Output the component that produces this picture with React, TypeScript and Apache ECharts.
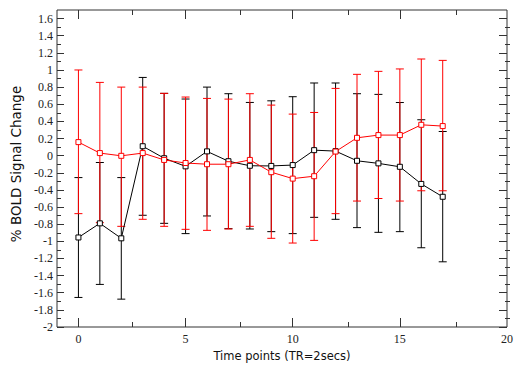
import React, { useEffect, useRef } from "react";
import * as echarts from "echarts";

// Time points (TR = 2 secs)
const timePoints = [0, 1, 2, 3, 4, 5, 6, 7, 8, 9, 10, 11, 12, 13, 14, 15, 16, 17];

// Black series: mean and error-bar ends
const blackMean = [-0.955, -0.79, -0.965, 0.11, -0.03, -0.125, 0.05, -0.065, -0.118, -0.12, -0.11, 0.064, 0.053, -0.06, -0.09, -0.13, -0.33, -0.48];
const blackLow = [-1.655, -1.503, -1.675, -0.696, -0.79, -0.91, -0.704, -0.852, -0.856, -0.887, -0.91, -0.72, -0.743, -0.84, -0.895, -0.887, -1.075, -1.239];
const blackHigh = [-0.256, -0.08, -0.256, 0.913, 0.727, 0.661, 0.8, 0.723, 0.621, 0.64, 0.688, 0.848, 0.848, 0.723, 0.715, 0.62, 0.419, 0.282];

// Red series: mean and error-bar ends
const redMean = [0.158, 0.03, -0.002, 0.03, -0.05, -0.086, -0.1, -0.1, -0.05, -0.193, -0.268, -0.24, 0.048, 0.208, 0.24, 0.24, 0.36, 0.345];
const redLow = [-0.677, -0.782, -0.825, -0.743, -0.825, -0.86, -0.872, -0.856, -0.825, -0.965, -1.02, -0.989, -0.677, -0.53, -0.5, -0.53, -0.41, -0.41];
const redHigh = [1.0, 0.855, 0.8, 0.8, 0.727, 0.684, 0.668, 0.66, 0.723, 0.59, 0.485, 0.504, 0.785, 0.949, 0.984, 1.012, 1.128, 1.112];

// Axis ticks and labels
const xLabelValues = [0, 5, 10, 15, 20];
const xMajorTicks = [0, 5, 10, 15];
const xMinorTicks = [2.5, 7.5, 12.5, 17.5];
const yMajorTicks = [-2, -1.8, -1.6, -1.4, -1.2, -1, -0.8, -0.6, -0.4, -0.2, 0, 0.2, 0.4, 0.6, 0.8, 1, 1.2, 1.4, 1.6];
const yMinorTicks = [-1.9, -1.7, -1.5, -1.3, -1.1, -0.9, -0.7, -0.5, -0.3, -0.1, 0.1, 0.3, 0.5, 0.7, 0.9, 1.1, 1.3, 1.5];

const X_MIN = -1;
const X_MAX = 20;
const Y_MIN = -2;
const Y_MAX = 1.7;

const AXIS_COLOR = "#333";
const LABEL_FONT = "Liberation Serif";
const TITLE_FONT = "DejaVu Sans";

function errorBarSeries(name: string, low: number[], high: number[], color: string) {
  return {
    name,
    type: "custom",
    xAxisIndex: 0,
    yAxisIndex: 0,
    data: timePoints.map((t, i) => [t, low[i], high[i]]),
    encode: { x: 0, y: [1, 2] },
    renderItem: (_params: any, api: any) => {
      const x = api.value(0);
      const pLo = api.coord([x, api.value(1)]);
      const pHi = api.coord([x, api.value(2)]);
      const hw = 4;
      const style = { stroke: color, lineWidth: 1, fill: "none" };
      return {
        type: "group",
        children: [
          { type: "line", shape: { x1: pLo[0], y1: pLo[1], x2: pHi[0], y2: pHi[1] }, style },
          { type: "line", shape: { x1: pLo[0] - hw, y1: pLo[1], x2: pLo[0] + hw, y2: pLo[1] }, style },
          { type: "line", shape: { x1: pHi[0] - hw, y1: pHi[1], x2: pHi[0] + hw, y2: pHi[1] }, style },
        ],
      };
    },
  };
}

function meanSeries(name: string, mean: number[], color: string) {
  return {
    name,
    type: "line",
    xAxisIndex: 0,
    yAxisIndex: 0,
    data: timePoints.map((t, i) => [t, mean[i]]),
    symbol: "rect",
    symbolSize: 5,
    showAllSymbol: true,
    lineStyle: { color, width: 1 },
    itemStyle: { color: "#fff", borderColor: color, borderWidth: 1 },
  };
}

function xAxisDef(gridIndex: number, position: string, ticks: number[], len: number, labels: boolean, name?: string) {
  return {
    type: "value",
    gridIndex,
    position,
    min: X_MIN,
    max: X_MAX,
    axisLine: { show: false, onZero: false },
    splitLine: { show: false },
    axisTick: { show: true, inside: true, length: len, customValues: ticks, lineStyle: { color: AXIS_COLOR, width: 1 } },
    axisLabel: labels
      ? { show: true, customValues: xLabelValues, margin: 6, color: "#222", fontFamily: LABEL_FONT, fontSize: 12 }
      : { show: false },
    name: name || "",
    nameLocation: "middle",
    nameGap: 22,
    nameTextStyle: { fontFamily: TITLE_FONT, fontSize: 11.5, color: "#111", verticalAlign: "top" },
  };
}

function yAxisDef(gridIndex: number, position: string, ticks: number[], len: number, labels: boolean, name?: string) {
  return {
    type: "value",
    gridIndex,
    position,
    min: Y_MIN,
    max: Y_MAX,
    axisLine: { show: false, onZero: false },
    splitLine: { show: false },
    axisTick: { show: true, inside: true, length: len, customValues: ticks, lineStyle: { color: AXIS_COLOR, width: 1 } },
    axisLabel: labels
      ? { show: true, customValues: yMajorTicks, margin: 4, color: "#222", fontFamily: LABEL_FONT, fontSize: 12 }
      : { show: false },
    name: name || "",
    nameLocation: "middle",
    nameGap: 33,
    nameRotate: 90,
    nameTextStyle: { fontFamily: TITLE_FONT, fontSize: 13.5, color: "#111", padding: [0, 0, 0, 9] },
  };
}

export default function App() {
  const ref = useRef<HTMLDivElement>(null);

  useEffect(() => {
    if (!ref.current) return;
    const chart = echarts.init(ref.current, undefined, { renderer: "svg" });
    const gridRect = { left: 57, top: 10, width: 453, height: 317 };
    chart.setOption({
      animation: false,
      backgroundColor: "#fff",
      grid: [
        { ...gridRect, show: true, borderColor: AXIS_COLOR, borderWidth: 1, backgroundColor: "transparent" },
        { ...gridRect, show: false },
      ],
      xAxis: [
        xAxisDef(0, "bottom", xMajorTicks, 9, true, "Time points (TR=2secs)"),
        xAxisDef(0, "top", xMajorTicks, 9, false),
        xAxisDef(1, "bottom", xMinorTicks, 5, false),
        xAxisDef(1, "top", xMinorTicks, 5, false),
      ],
      yAxis: [
        yAxisDef(0, "left", yMajorTicks, 7, true, "% BOLD Signal Change"),
        yAxisDef(0, "right", yMajorTicks, 8, false),
        yAxisDef(1, "left", yMinorTicks, 4, false),
        yAxisDef(1, "right", yMinorTicks, 5, false),
      ],
      series: [
        errorBarSeries("blackErr", blackLow, blackHigh, "#000"),
        meanSeries("black", blackMean, "#000"),
        errorBarSeries("redErr", redLow, redHigh, "#ff0000"),
        meanSeries("red", redMean, "#ff0000"),
      ],
    });
    return () => chart.dispose();
  }, []);

  return (
    <div
      ref={ref}
      style={{ position: "fixed", left: 0, top: 0, width: 516, height: 369, background: "#fff" }}
    />
  );
}
